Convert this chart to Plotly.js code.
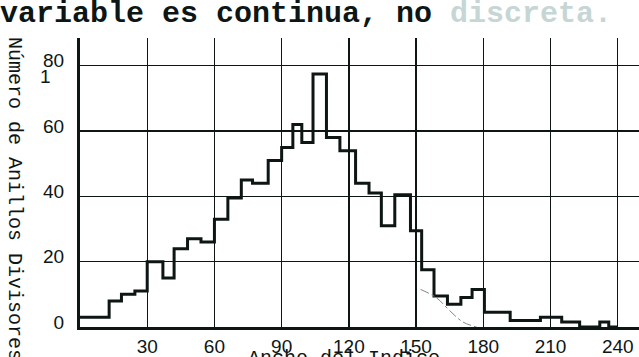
<!DOCTYPE html>
<html>
<head>
<meta charset="utf-8">
<script src="https://cdn.plot.ly/plotly-3.0.1.min.js"></script>
<style>html,body{margin:0;padding:0;background:#fff;}#chart{width:639px;height:357px;}</style>
</head>
<body>
<div id="chart"></div>
<script>
// Bin edges (Ancho del Indice) and counts (Número de Anillos Divisores)
var binEdges = [0,13,18.5,24.5,30,37,42,48,54,60,66,72,77,84,90,95,99,104,110,116,123,129,134.5,140.5,147.5,152.5,158,164,170,175,180.5,192,205.5,215,223,232,236,240];
var binCounts = [3,8,10,11,20,15,24,27,26,33,39.5,45,44,51,55,62,56.5,77.5,58,54,44,41,31,40.5,29.5,17.5,9.5,7,9,11.5,4.5,2,3,1.5,0,1.5,0];
// Hand-drawn dashed curve near the right tail
var curveX = [152,159,165,171,177];
var curveY = [11.5,9,5,1.5,0];
var xTicks = [30,60,90,120,150,180,210,240];
var yTicks = [0,20,40,60,80];

var ink = '#0d1614';
var stepY = binCounts.concat([binCounts[binCounts.length-1]]);

var traces = [
  {x: binEdges, y: stepY, type: 'scatter', mode: 'lines',
   line: {shape: 'hv', color: ink, width: 3}, hoverinfo: 'skip'},
  {x: curveX, y: curveY, type: 'scatter', mode: 'lines',
   line: {color: '#7d8a88', width: 1, dash: 'dashdot', shape: 'spline'}, hoverinfo: 'skip'}
];

var layout = {
  width: 639, height: 357,
  margin: {l: 80, r: 0, t: 38, b: 30, pad: 0},
  paper_bgcolor: '#ffffff', plot_bgcolor: '#ffffff',
  showlegend: false,
  xaxis: {range: [0, 249.5], tickvals: xTicks, ticktext: xTicks.map(String),
    showgrid: true, gridcolor: ink, gridwidth: 1.3, zeroline: false,
    showline: true, linecolor: ink, linewidth: 3, ticks: '',
    tickfont: {family: 'Liberation Sans, Arial, sans-serif', size: 19, color: ink}},
  yaxis: {range: [0, 88.5], tickvals: yTicks, ticktext: yTicks.map(String),
    showgrid: true, gridcolor: ink, gridwidth: 1.3, zeroline: false,
    showline: true, linecolor: ink, linewidth: 3, ticks: '', ticklabelstandoff: 9,
    ticklabelshift: -5,
    tickfont: {family: 'Liberation Sans, Arial, sans-serif', size: 19, color: ink}},
  annotations: [
    {text: "variable es continua, no <span style='color:#c6d6d4'>discreta.</span>",
     xref: 'paper', yref: 'paper', x: -0.1467, y: 1.083, xanchor: 'left', yanchor: 'middle',
     showarrow: false, font: {family: 'Liberation Mono, Courier New, monospace', size: 30, color: ink, weight: 'bold'}},
    {text: 'Número de Anillos Divisores', textangle: 90,
     xref: 'paper', yref: 'paper', x: -0.118, y: 0.443, xanchor: 'center', yanchor: 'middle',
     showarrow: false, font: {family: 'Liberation Mono, Courier New, monospace', size: 20, color: ink}},
    {text: 'Ancho del Indice',
     xref: 'paper', yref: 'paper', x: 0.472, y: -0.062, xanchor: 'center', yanchor: 'top',
     showarrow: false, font: {family: 'Liberation Mono, Courier New, monospace', size: 20, color: ink}},
    {text: '1',
     xref: 'paper', yref: 'paper', x: -0.061, y: 0.866, xanchor: 'center', yanchor: 'middle',
     showarrow: false, font: {family: 'Liberation Sans, Arial, sans-serif', size: 19, color: ink}}
  ]
};

Plotly.newPlot('chart', traces, layout, {staticPlot: true, displayModeBar: false});
</script>
</body>
</html>
